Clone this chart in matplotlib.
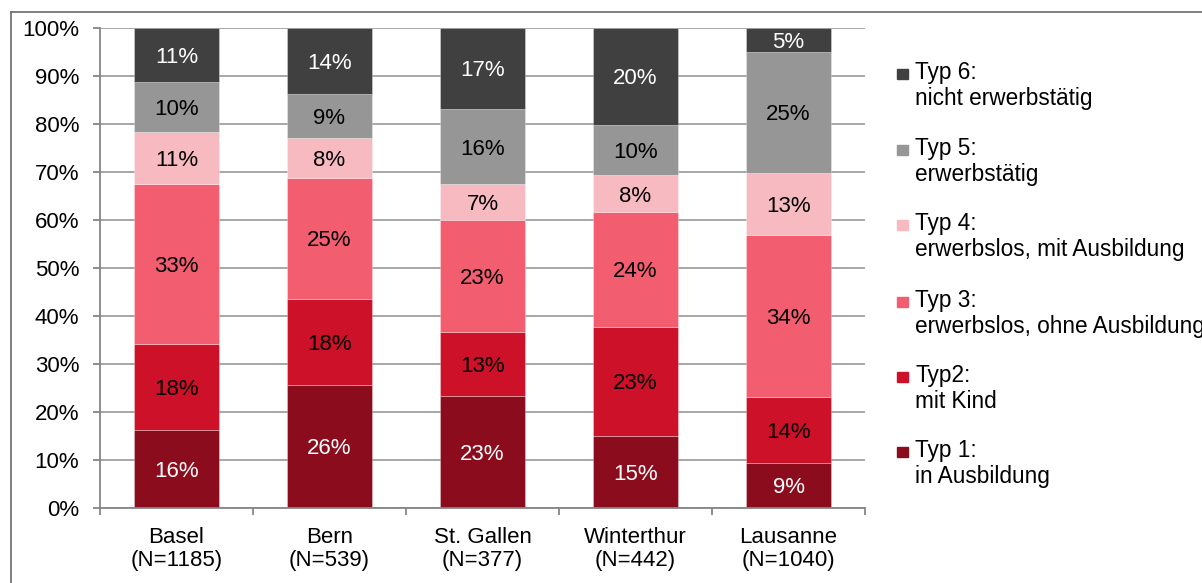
import matplotlib
matplotlib.use('Agg')
import matplotlib.pyplot as plt
import numpy as np
from matplotlib.lines import Line2D
from matplotlib.patches import Rectangle

plt.rcParams['font.family'] = ['Liberation Sans', 'DejaVu Sans']

# Staedte / Kategorien
cities = ['Basel\n(N=1185)', 'Bern\n(N=539)', 'St. Gallen\n(N=377)',
          'Winterthur\n(N=442)', 'Lausanne\n(N=1040)']
# Anteile in % (von unten nach oben gestapelt)
typ1 = [16.2, 25.7, 23.4, 15.0, 9.4]
typ2 = [18.0, 17.8, 13.2, 22.8, 13.7]
typ3 = [33.3, 25.3, 23.4, 23.8, 33.7]
typ4 = [10.8, 8.2, 7.4, 7.8, 13.0]
typ5 = [10.4, 9.3, 15.8, 10.4, 25.2]
typ6 = [11.3, 13.7, 16.8, 20.2, 5.0]
series = [typ1, typ2, typ3, typ4, typ5, typ6]
legend_labels = ['Typ 1:\nin Ausbildung', 'Typ2:\nmit Kind',
                 'Typ 3:\nerwerbslos, ohne Ausbildung',
                 'Typ 4:\nerwerbslos, mit Ausbildung',
                 'Typ 5:\nerwerbstätig', 'Typ 6:\nnicht erwerbstätig']
colors = ['#8b0d1d', '#cc1128', '#f25e70', '#f8bac1', '#969696', '#404040']
txtcolors = ['white', 'black', 'black', 'black', 'black', 'white']

FS = 16
W, H = 1202, 583
fig = plt.figure(figsize=(W / 100, H / 100), dpi=100)
ax = fig.add_axes([100 / W, 1 - 508 / H, 765 / W, 480 / H])

x = np.arange(len(cities))
bottom = np.zeros(len(cities))
for vals, col, tcol in zip(series, colors, txtcolors):
    vals = np.array(vals)
    ax.bar(x, vals, 0.55, bottom=bottom, color=col,
           edgecolor=(1, 1, 1, 0.35), linewidth=0.6, zorder=2)
    for xi, b, v in zip(x, bottom, vals):
        ax.text(xi, b + v / 2, '%.0f%%' % v, ha='center', va='center_baseline',
                fontsize=FS, color=tcol, zorder=3)
    bottom += vals

ax.set_xlim(-0.5, len(cities) - 0.5)
ax.set_ylim(0, 100)
ax.set_yticks(np.arange(0, 101, 10))
ax.set_yticklabels(['%d%%' % v for v in range(0, 101, 10)], fontsize=FS)
ax.yaxis.grid(True, color='#a0a0a0', linewidth=1.3, zorder=0)
ax.set_axisbelow(True)
ax.set_xticks(x)
ax.set_xticklabels(cities, fontsize=FS, linespacing=1.1)
ax.set_xticks(np.arange(-0.5, len(cities)), minor=True)
ax.tick_params(axis='x', which='major', length=0, pad=14)
ax.tick_params(axis='x', which='minor', length=5, color='#868686', width=1.3)
ax.tick_params(axis='y', length=5, color='#868686', width=1.3, pad=10)
for s in ['top', 'right']:
    ax.spines[s].set_visible(False)
for s in ['left', 'bottom']:
    ax.spines[s].set_color('#868686')
    ax.spines[s].set_linewidth(1.3)

# Legende rechts (oben Typ 6)
base_y = [457, 382, 307, 230, 155, 79]
for lab, col, by in zip(legend_labels, colors, base_y):
    l1, l2 = lab.split('\n')
    fig.text(915 / W, 1 - by / H, l1, fontsize=16.3, va='baseline')
    fig.text(915 / W, 1 - (by + 26) / H, l2, fontsize=16.3, va='baseline')
    fig.patches.append(Rectangle((897 / W, 1 - by / H), 11 / W, 10 / H,
                                 transform=fig.transFigure, color=col))

# Rahmen
fig.lines.append(Line2D([11 / W, 1], [1 - 12 / H, 1 - 12 / H],
                        transform=fig.transFigure, color='#6a6a6a', lw=1.2))
fig.lines.append(Line2D([11 / W, 11 / W], [0, 1 - 12 / H],
                        transform=fig.transFigure, color='#6a6a6a', lw=1.2))

fig.savefig('out.png', dpi=100)
